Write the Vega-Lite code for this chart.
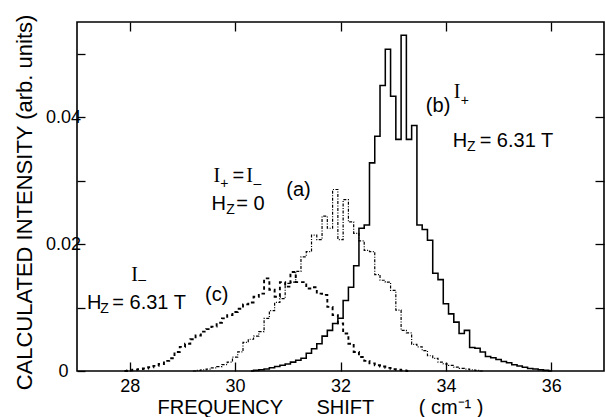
{
  "$schema": "https://vega.github.io/schema/vega-lite/v6.json",
  "width": 527,
  "height": 349,
  "autosize": {"type": "none"},
  "padding": {"left": 77, "top": 22, "right": 1, "bottom": 46},
  "background": "white",
  "config": {
    "view": {"stroke": "black", "strokeWidth": 1.6},
    "font": "Liberation Sans, Arial, sans-serif",
    "axis": {
      "domain": false,
      "grid": false,
      "tickColor": "black",
      "tickWidth": 1.3,
      "labelColor": "black",
      "titleColor": "black",
      "labelFont": "Liberation Sans, Arial, sans-serif",
      "titleFont": "Liberation Sans, Arial, sans-serif",
      "titleFontWeight": "normal"
    }
  },
  "datasets": {
    "spectra": [
      {"f": 30.3, "i": 0, "c": "b"},
      {"f": 30.4, "i": 0.0001, "c": "b"},
      {"f": 30.5, "i": 0.0002, "c": "b"},
      {"f": 30.6, "i": 0.0003, "c": "b"},
      {"f": 30.7, "i": 0.0005, "c": "b"},
      {"f": 30.8, "i": 0.0007, "c": "b"},
      {"f": 30.9, "i": 0.0009, "c": "b"},
      {"f": 31.0, "i": 0.0011, "c": "b"},
      {"f": 31.1, "i": 0.0014, "c": "b"},
      {"f": 31.2, "i": 0.0017, "c": "b"},
      {"f": 31.3, "i": 0.0020, "c": "b"},
      {"f": 31.4, "i": 0.0028, "c": "b"},
      {"f": 31.5, "i": 0.0035, "c": "b"},
      {"f": 31.6, "i": 0.0043, "c": "b"},
      {"f": 31.7, "i": 0.0055, "c": "b"},
      {"f": 31.8, "i": 0.0064, "c": "b"},
      {"f": 31.9, "i": 0.0075, "c": "b"},
      {"f": 32.0, "i": 0.0083, "c": "b"},
      {"f": 32.1, "i": 0.0111, "c": "b"},
      {"f": 32.2, "i": 0.0132, "c": "b"},
      {"f": 32.3, "i": 0.0166, "c": "b"},
      {"f": 32.4, "i": 0.0225, "c": "b"},
      {"f": 32.5, "i": 0.0230, "c": "b"},
      {"f": 32.6, "i": 0.0328, "c": "b"},
      {"f": 32.7, "i": 0.0370, "c": "b"},
      {"f": 32.8, "i": 0.0450, "c": "b"},
      {"f": 32.9, "i": 0.0507, "c": "b"},
      {"f": 33.0, "i": 0.0433, "c": "b"},
      {"f": 33.1, "i": 0.0365, "c": "b"},
      {"f": 33.2, "i": 0.0529, "c": "b"},
      {"f": 33.3, "i": 0.0365, "c": "b"},
      {"f": 33.4, "i": 0.0387, "c": "b"},
      {"f": 33.5, "i": 0.0230, "c": "b"},
      {"f": 33.6, "i": 0.0223, "c": "b"},
      {"f": 33.7, "i": 0.0206, "c": "b"},
      {"f": 33.8, "i": 0.0154, "c": "b"},
      {"f": 33.9, "i": 0.0144, "c": "b"},
      {"f": 34.0, "i": 0.0106, "c": "b"},
      {"f": 34.1, "i": 0.0090, "c": "b"},
      {"f": 34.2, "i": 0.0077, "c": "b"},
      {"f": 34.3, "i": 0.0059, "c": "b"},
      {"f": 34.4, "i": 0.0064, "c": "b"},
      {"f": 34.5, "i": 0.0037, "c": "b"},
      {"f": 34.6, "i": 0.0036, "c": "b"},
      {"f": 34.7, "i": 0.0030, "c": "b"},
      {"f": 34.8, "i": 0.0023, "c": "b"},
      {"f": 34.9, "i": 0.0021, "c": "b"},
      {"f": 35.0, "i": 0.0018, "c": "b"},
      {"f": 35.1, "i": 0.0015, "c": "b"},
      {"f": 35.2, "i": 0.0013, "c": "b"},
      {"f": 35.3, "i": 0.0010, "c": "b"},
      {"f": 35.4, "i": 0.0008, "c": "b"},
      {"f": 35.5, "i": 0.0006, "c": "b"},
      {"f": 35.6, "i": 0.0004, "c": "b"},
      {"f": 35.7, "i": 0.0003, "c": "b"},
      {"f": 35.8, "i": 0.0002, "c": "b"},
      {"f": 35.9, "i": 0.0001, "c": "b"},
      {"f": 36.0, "i": 0, "c": "b"},

      {"f": 29.2, "i": 0, "c": "a"},
      {"f": 29.3, "i": 0.0001, "c": "a"},
      {"f": 29.4, "i": 0.0002, "c": "a"},
      {"f": 29.5, "i": 0.0003, "c": "a"},
      {"f": 29.6, "i": 0.0005, "c": "a"},
      {"f": 29.7, "i": 0.0007, "c": "a"},
      {"f": 29.8, "i": 0.0010, "c": "a"},
      {"f": 29.9, "i": 0.0014, "c": "a"},
      {"f": 30.0, "i": 0.0022, "c": "a"},
      {"f": 30.1, "i": 0.0030, "c": "a"},
      {"f": 30.2, "i": 0.0045, "c": "a"},
      {"f": 30.3, "i": 0.0050, "c": "a"},
      {"f": 30.4, "i": 0.0055, "c": "a"},
      {"f": 30.5, "i": 0.0062, "c": "a"},
      {"f": 30.6, "i": 0.0083, "c": "a"},
      {"f": 30.7, "i": 0.0095, "c": "a"},
      {"f": 30.8, "i": 0.0108, "c": "a"},
      {"f": 30.9, "i": 0.0114, "c": "a"},
      {"f": 31.0, "i": 0.0138, "c": "a"},
      {"f": 31.1, "i": 0.0140, "c": "a"},
      {"f": 31.2, "i": 0.0157, "c": "a"},
      {"f": 31.3, "i": 0.0180, "c": "a"},
      {"f": 31.4, "i": 0.0188, "c": "a"},
      {"f": 31.5, "i": 0.0214, "c": "a"},
      {"f": 31.6, "i": 0.0207, "c": "a"},
      {"f": 31.7, "i": 0.0244, "c": "a"},
      {"f": 31.8, "i": 0.0225, "c": "a"},
      {"f": 31.9, "i": 0.0286, "c": "a"},
      {"f": 32.0, "i": 0.0207, "c": "a"},
      {"f": 32.1, "i": 0.0270, "c": "a"},
      {"f": 32.2, "i": 0.0235, "c": "a"},
      {"f": 32.3, "i": 0.0217, "c": "a"},
      {"f": 32.4, "i": 0.0205, "c": "a"},
      {"f": 32.5, "i": 0.0190, "c": "a"},
      {"f": 32.6, "i": 0.0188, "c": "a"},
      {"f": 32.7, "i": 0.0152, "c": "a"},
      {"f": 32.8, "i": 0.0143, "c": "a"},
      {"f": 32.9, "i": 0.0140, "c": "a"},
      {"f": 33.0, "i": 0.0127, "c": "a"},
      {"f": 33.1, "i": 0.0096, "c": "a"},
      {"f": 33.2, "i": 0.0064, "c": "a"},
      {"f": 33.3, "i": 0.0060, "c": "a"},
      {"f": 33.4, "i": 0.0042, "c": "a"},
      {"f": 33.5, "i": 0.0038, "c": "a"},
      {"f": 33.6, "i": 0.0032, "c": "a"},
      {"f": 33.7, "i": 0.0024, "c": "a"},
      {"f": 33.8, "i": 0.0020, "c": "a"},
      {"f": 33.9, "i": 0.0014, "c": "a"},
      {"f": 34.0, "i": 0.0011, "c": "a"},
      {"f": 34.1, "i": 0.0009, "c": "a"},
      {"f": 34.2, "i": 0.0006, "c": "a"},
      {"f": 34.3, "i": 0.0004, "c": "a"},
      {"f": 34.4, "i": 0.0003, "c": "a"},
      {"f": 34.5, "i": 0.0002, "c": "a"},
      {"f": 34.6, "i": 0.0001, "c": "a"},
      {"f": 34.7, "i": 0, "c": "a"},

      {"f": 27.9, "i": 0, "c": "c"},
      {"f": 28.0, "i": 0.0001, "c": "c"},
      {"f": 28.1, "i": 0.0002, "c": "c"},
      {"f": 28.2, "i": 0.0003, "c": "c"},
      {"f": 28.3, "i": 0.0004, "c": "c"},
      {"f": 28.4, "i": 0.0006, "c": "c"},
      {"f": 28.5, "i": 0.0008, "c": "c"},
      {"f": 28.6, "i": 0.0011, "c": "c"},
      {"f": 28.7, "i": 0.0016, "c": "c"},
      {"f": 28.8, "i": 0.0020, "c": "c"},
      {"f": 28.9, "i": 0.0030, "c": "c"},
      {"f": 29.0, "i": 0.0038, "c": "c"},
      {"f": 29.1, "i": 0.0043, "c": "c"},
      {"f": 29.2, "i": 0.0050, "c": "c"},
      {"f": 29.3, "i": 0.0056, "c": "c"},
      {"f": 29.4, "i": 0.0062, "c": "c"},
      {"f": 29.5, "i": 0.0066, "c": "c"},
      {"f": 29.6, "i": 0.0070, "c": "c"},
      {"f": 29.7, "i": 0.0076, "c": "c"},
      {"f": 29.8, "i": 0.0083, "c": "c"},
      {"f": 29.9, "i": 0.0088, "c": "c"},
      {"f": 30.0, "i": 0.0093, "c": "c"},
      {"f": 30.1, "i": 0.0098, "c": "c"},
      {"f": 30.2, "i": 0.0105, "c": "c"},
      {"f": 30.3, "i": 0.0108, "c": "c"},
      {"f": 30.4, "i": 0.0117, "c": "c"},
      {"f": 30.5, "i": 0.0122, "c": "c"},
      {"f": 30.6, "i": 0.0146, "c": "c"},
      {"f": 30.7, "i": 0.0128, "c": "c"},
      {"f": 30.8, "i": 0.0117, "c": "c"},
      {"f": 30.9, "i": 0.0140, "c": "c"},
      {"f": 31.0, "i": 0.0133, "c": "c"},
      {"f": 31.1, "i": 0.0156, "c": "c"},
      {"f": 31.2, "i": 0.0140, "c": "c"},
      {"f": 31.3, "i": 0.0140, "c": "c"},
      {"f": 31.4, "i": 0.0130, "c": "c"},
      {"f": 31.5, "i": 0.0132, "c": "c"},
      {"f": 31.6, "i": 0.0122, "c": "c"},
      {"f": 31.7, "i": 0.0120, "c": "c"},
      {"f": 31.8, "i": 0.0101, "c": "c"},
      {"f": 31.9, "i": 0.0088, "c": "c"},
      {"f": 32.0, "i": 0.0075, "c": "c"},
      {"f": 32.1, "i": 0.0059, "c": "c"},
      {"f": 32.2, "i": 0.0043, "c": "c"},
      {"f": 32.3, "i": 0.0030, "c": "c"},
      {"f": 32.4, "i": 0.0022, "c": "c"},
      {"f": 32.5, "i": 0.0016, "c": "c"},
      {"f": 32.6, "i": 0.0012, "c": "c"},
      {"f": 32.7, "i": 0.0009, "c": "c"},
      {"f": 32.8, "i": 0.0007, "c": "c"},
      {"f": 32.9, "i": 0.0005, "c": "c"},
      {"f": 33.0, "i": 0.0003, "c": "c"},
      {"f": 33.1, "i": 0.0002, "c": "c"},
      {"f": 33.2, "i": 0.0001, "c": "c"},
      {"f": 33.3, "i": 0, "c": "c"}
    ],
    "labels": [
      {"f": 33.62, "i": 0.0417, "t": "(b)"},
      {"f": 34.13, "i": 0.0363, "t": "H"},
      {"f": 34.64, "i": 0.0363, "t": "= 6.31 T"},
      {"f": 29.95, "i": 0.0308, "t": "="},
      {"f": 29.55, "i": 0.0263, "t": "H"},
      {"f": 30.02, "i": 0.0263, "t": "= 0"},
      {"f": 30.97, "i": 0.0285, "t": "(a)"},
      {"f": 27.19, "i": 0.0107, "t": "H"},
      {"f": 27.67, "i": 0.0107, "t": "= 6.31 T"},
      {"f": 29.43, "i": 0.0119, "t": "(c)"}
    ],
    "ilabels": [
      {"f": 34.15, "i": 0.0440, "t": "I"},
      {"f": 29.59, "i": 0.0308, "t": "I"},
      {"f": 30.21, "i": 0.0308, "t": "I"},
      {"f": 28.03, "i": 0.0151, "t": "I"}
    ],
    "subs": [
      {"f": 34.40, "i": 0.0353, "t": "Z"},
      {"f": 29.83, "i": 0.0254, "t": "Z"},
      {"f": 27.44, "i": 0.0098, "t": "Z"},
      {"f": 34.28, "i": 0.0425, "t": "+"},
      {"f": 29.72, "i": 0.0294, "t": "+"},
      {"f": 30.35, "i": 0.0295, "t": "–"},
      {"f": 28.16, "i": 0.0143, "t": "–"}
    ]
  },
  "layer": [
    {
      "data": {"name": "spectra"},
      "mark": {"type": "line", "interpolate": "step", "color": "black"},
      "encoding": {
        "x": {
          "field": "f", "type": "quantitative",
          "scale": {"domain": [27, 37], "nice": false, "zero": false},
          "axis": {
            "orient": "bottom",
            "values": [28, 30, 32, 34, 36],
            "tickSize": -9,
            "labelFontSize": 18,
            "labelPadding": 15,
            "labelFlush": false,
            "title": "FREQUENCY\u00a0\u00a0\u00a0\u00a0\u00a0\u00a0SHIFT\u00a0\u00a0\u00a0\u00a0\u00a0\u00a0\u00a0\u00a0(\u00a0cm⁻¹\u00a0)",
            "titleFontSize": 20,
            "titlePadding": 2,
            "titleX": 243
          }
        },
        "y": {
          "field": "i", "type": "quantitative",
          "scale": {"domain": [0, 0.055], "nice": false},
          "axis": {
            "orient": "left",
            "values": [0, 0.01, 0.02, 0.03, 0.04, 0.05],
            "tickSize": -8,
            "labelFontSize": 18,
            "labelAlign": "center",
            "labelPadding": 22,
            "labelFlush": false,
            "labelExpr": "datum.value == 0 ? '0' : (round(datum.value * 100) % 2 == 0 ? format(datum.value, '.2f') : '')",
            "title": "CALCULATED INTENSITY (arb. units)",
            "titleFontSize": 22,
            "titlePadding": 9,
            "titleY": 180
          }
        },
        "detail": {"field": "c"},
        "strokeDash": {
          "field": "c", "type": "nominal",
          "scale": {"domain": ["a", "b", "c"], "range": [[3, 1.5, 1, 1.5], [1, 0], [3.5, 3]]},
          "legend": null
        },
        "strokeWidth": {
          "field": "c", "type": "nominal",
          "scale": {"domain": ["a", "b", "c"], "range": [1.2, 1.9, 1.0]},
          "legend": null
        }
      }
    },
    {
      "data": {"name": "labels"},
      "mark": {"type": "text", "align": "left", "baseline": "middle", "fontSize": 20, "color": "black"},
      "encoding": {
        "x": {
          "field": "f", "type": "quantitative",
          "axis": {"orient": "top", "values": [28, 30, 32, 34, 36], "tickSize": -9, "labels": false, "title": null}
        },
        "y": {
          "field": "i", "type": "quantitative",
          "axis": {"orient": "right", "values": [0.01, 0.02, 0.03, 0.04, 0.05], "tickSize": -9, "labels": false, "title": null}
        },
        "text": {"field": "t"}
      }
    },
    {
      "data": {"name": "ilabels"},
      "mark": {"type": "text", "align": "left", "baseline": "middle", "fontSize": 20, "font": "Liberation Serif, serif", "color": "black"},
      "encoding": {
        "x": {"field": "f", "type": "quantitative", "axis": null},
        "y": {"field": "i", "type": "quantitative", "axis": null},
        "text": {"field": "t"}
      }
    },
    {
      "data": {"name": "subs"},
      "mark": {"type": "text", "align": "left", "baseline": "middle", "fontSize": 14, "color": "black"},
      "encoding": {
        "x": {"field": "f", "type": "quantitative", "axis": null},
        "y": {"field": "i", "type": "quantitative", "axis": null},
        "text": {"field": "t"}
      }
    }
  ],
  "resolve": {"axis": {"x": "independent", "y": "independent"}}
}
